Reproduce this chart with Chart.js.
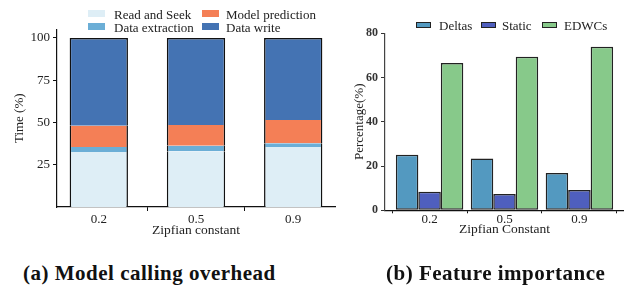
<!DOCTYPE html>
<html>
<head>
<meta charset="utf-8">
<script src="https://cdn.jsdelivr.net/npm/chart.js@4.4.1/dist/chart.umd.min.js"></script>
<style>
  html, body { margin: 0; padding: 0; background: #fff; }
  body { width: 624px; height: 289px; position: relative; overflow: hidden; font-family: "Liberation Serif", "DejaVu Serif", serif; color: #222; }
  .cv { position: absolute; top: 0; }
  #c1wrap { left: 0; width: 345px; height: 245px; }
  #c2wrap { left: 340px; width: 284px; height: 245px; }
  .leg { position: absolute; font-size: 13px; line-height: 13px; white-space: nowrap; }
  .box { position: absolute; }
  .cap { position: absolute; font-weight: bold; font-size: 21px; letter-spacing: 0.5px; line-height: 22px; white-space: nowrap; color: #111; }
</style>
</head>
<body>
<div id="c1wrap" class="cv"><canvas id="c1"></canvas></div>
<div id="c2wrap" class="cv"><canvas id="c2"></canvas></div>
<div id="legends"></div>
<div class="cap" style="left:23px; top:262px;">(a) Model calling overhead</div>
<div class="cap" style="left:386px; top:262px;">(b) Feature importance</div>
<script>
// ---------- data: (a) Model calling overhead ----------
const zipfA = ['0.2', '0.5', '0.9'];
const readSeek = [32.5, 33.0, 35.5];
const dataExtraction = [3.0, 3.3, 2.2];
const modelPrediction = [12.5, 12.2, 13.8];
const dataWrite = [52.0, 51.5, 48.5];
const seriesA = ['Read and Seek', 'Data extraction', 'Model prediction', 'Data write'];
const colorsA = ['#deeef6', '#6baed6', '#f47f56', '#4473b3'];
const yTicksA = [25, 50, 75, 100];

// ---------- data: (b) Feature importance ----------
const zipfB = ['0.2', '0.5', '0.9'];
const deltas = [25.1, 23.4, 16.9];
const staticF = [8.4, 7.4, 9.2];
const edwcs = [66.6, 69.4, 73.9];
const seriesB = ['Deltas', 'Static', 'EDWCs'];
const colorsB = ['#5399c0', '#4f5fbe', '#87c98a'];
const yTicksB = [0, 20, 40, 60, 80];

const SERIF = '"Liberation Serif", "DejaVu Serif", serif';
const toXY = arr => arr.map((v, i) => ({ x: i, y: v }));

// ---------- chart (a) ----------
const valsA = [readSeek, dataExtraction, modelPrediction, dataWrite];
new Chart(document.getElementById('c1'), {
  type: 'bar',
  data: {
    datasets: valsA.map((vals, k) => ({
      label: seriesA[k],
      data: toXY(vals),
      backgroundColor: colorsA[k],
      borderColor: '#111',
      borderWidth: k === valsA.length - 1
        ? { left: 1.5, right: 1.5, top: 1.5, bottom: 0 }
        : { left: 1.5, right: 1.5, top: 0, bottom: 0 },
      borderSkipped: false,
      barPercentage: 0.6,
      categoryPercentage: 1.0,
      stack: 's'
    }))
  },
  options: {
    responsive: true, maintainAspectRatio: false, animation: false,
    layout: { padding: { left: 0, right: 10, top: 29.5, bottom: 0 } },
    plugins: { legend: { display: false }, tooltip: { enabled: false } },
    scales: {
      x: {
        type: 'linear', stacked: true, offset: false, min: -0.43, max: 2.43,
        afterBuildTicks: s => { s.ticks = zipfA.map((_, i) => ({ value: i })); },
        afterFit: s => { s.height = 38; },
        ticks: { callback: v => zipfA[v], font: { family: SERIF, size: 13 }, color: '#222', padding: 1, maxRotation: 0 },
        grid: { display: true, drawOnChartArea: false, drawTicks: true, tickLength: 4, color: '#111' },
        border: { display: true, color: '#111', width: 1.2 },
        title: { display: true, text: 'Zipfian constant', font: { family: SERIF, size: 13.5 }, color: '#222', padding: { top: 0, bottom: 6 } }
      },
      y: {
        stacked: true, min: 0, max: 105,
        afterBuildTicks: s => { s.ticks = yTicksA.map(v => ({ value: v })); },
        afterFit: s => { s.width = 57; },
        ticks: { font: { family: SERIF, size: 13 }, color: '#222', padding: 3 },
        grid: { display: true, drawOnChartArea: false, drawTicks: true, tickLength: 4, color: '#111' },
        border: { display: true, color: '#111', width: 1.2 },
        title: { display: true, text: 'Time (%)', font: { family: SERIF, size: 13 }, color: '#222', padding: { top: 12, bottom: 0 } }
      }
    }
  }
});

// ---------- chart (b) ----------
const valsB = [deltas, staticF, edwcs];
new Chart(document.getElementById('c2'), {
  type: 'bar',
  data: {
    datasets: valsB.map((vals, k) => ({
      label: seriesB[k],
      data: toXY(vals),
      backgroundColor: colorsB[k],
      borderColor: '#222',
      borderWidth: 1.5,
      borderSkipped: false,
      barPercentage: 1.0,
      categoryPercentage: 0.9
    }))
  },
  options: {
    responsive: true, maintainAspectRatio: false, animation: false,
    layout: { padding: { left: 0, right: 0, top: 33.3, bottom: 0 } },
    plugins: { legend: { display: false }, tooltip: { enabled: false } },
    scales: {
      x: {
        type: 'linear', offset: false, min: -0.595, max: 2.595,
        afterBuildTicks: s => { s.ticks = zipfB.map((_, i) => ({ value: i })); },
        afterFit: s => { s.height = 34.7; },
        ticks: { callback: v => zipfB[v], font: { family: SERIF, size: 13 }, color: '#222', padding: -2, maxRotation: 0 },
        grid: { display: true, drawOnChartArea: false, drawTicks: true, tickLength: 3, color: '#111' },
        border: { display: true, color: '#111', width: 1.2 },
        title: { display: true, text: 'Zipfian Constant', font: { family: SERIF, size: 13.5 }, color: '#222', padding: { top: 0, bottom: 7 } }
      },
      y: {
        min: 0, max: 80,
        afterBuildTicks: s => { s.ticks = yTicksB.map(v => ({ value: v })); },
        afterFit: s => { s.width = 45; },
        ticks: { font: { family: SERIF, size: 12, weight: 'bold' }, color: '#333', padding: 3 },
        grid: { display: true, drawOnChartArea: false, drawTicks: true, tickLength: 4, color: '#333' },
        border: { display: true, color: '#444', width: 1.2 },
        title: { display: true, text: 'Percentage(%)', font: { family: SERIF, size: 13 }, color: '#222', padding: { top: 12, bottom: 0 } }
      }
    }
  }
});

// ---------- legends (HTML, built from the series arrays) ----------
const legRoot = document.getElementById('legends');
function addItem(name, color, bx, by, bw, bh, tx, ty, outline) {
  const b = document.createElement('div');
  b.className = 'box';
  b.style.cssText = `left:${bx}px;top:${by}px;width:${bw}px;height:${bh}px;background:${color};` +
    (outline ? 'box-sizing:border-box;border:1px solid #222;' : '');
  legRoot.appendChild(b);
  const t = document.createElement('div');
  t.className = 'leg';
  t.style.left = tx + 'px';
  t.style.top = ty + 'px';
  t.textContent = name;
  legRoot.appendChild(t);
}
// (a): two columns, filled column-wise
const legPosA = [[88, 10, 114, 8], [88, 23, 114, 21], [202, 10, 226, 8], [202, 23, 226, 21]];
seriesA.forEach((n, k) => {
  const p = legPosA[k];
  addItem(n, colorsA[k], p[0], p[1], 17, 7, p[2], p[3], false);
});
// (b): one row
const legPosB = [[416, 439], [481, 502], [542, 564]];
seriesB.forEach((n, k) => {
  const p = legPosB[k];
  addItem(n, colorsB[k], p[0], 22, 15, 6, p[1], 19, true);
});
</script>
</body>
</html>
